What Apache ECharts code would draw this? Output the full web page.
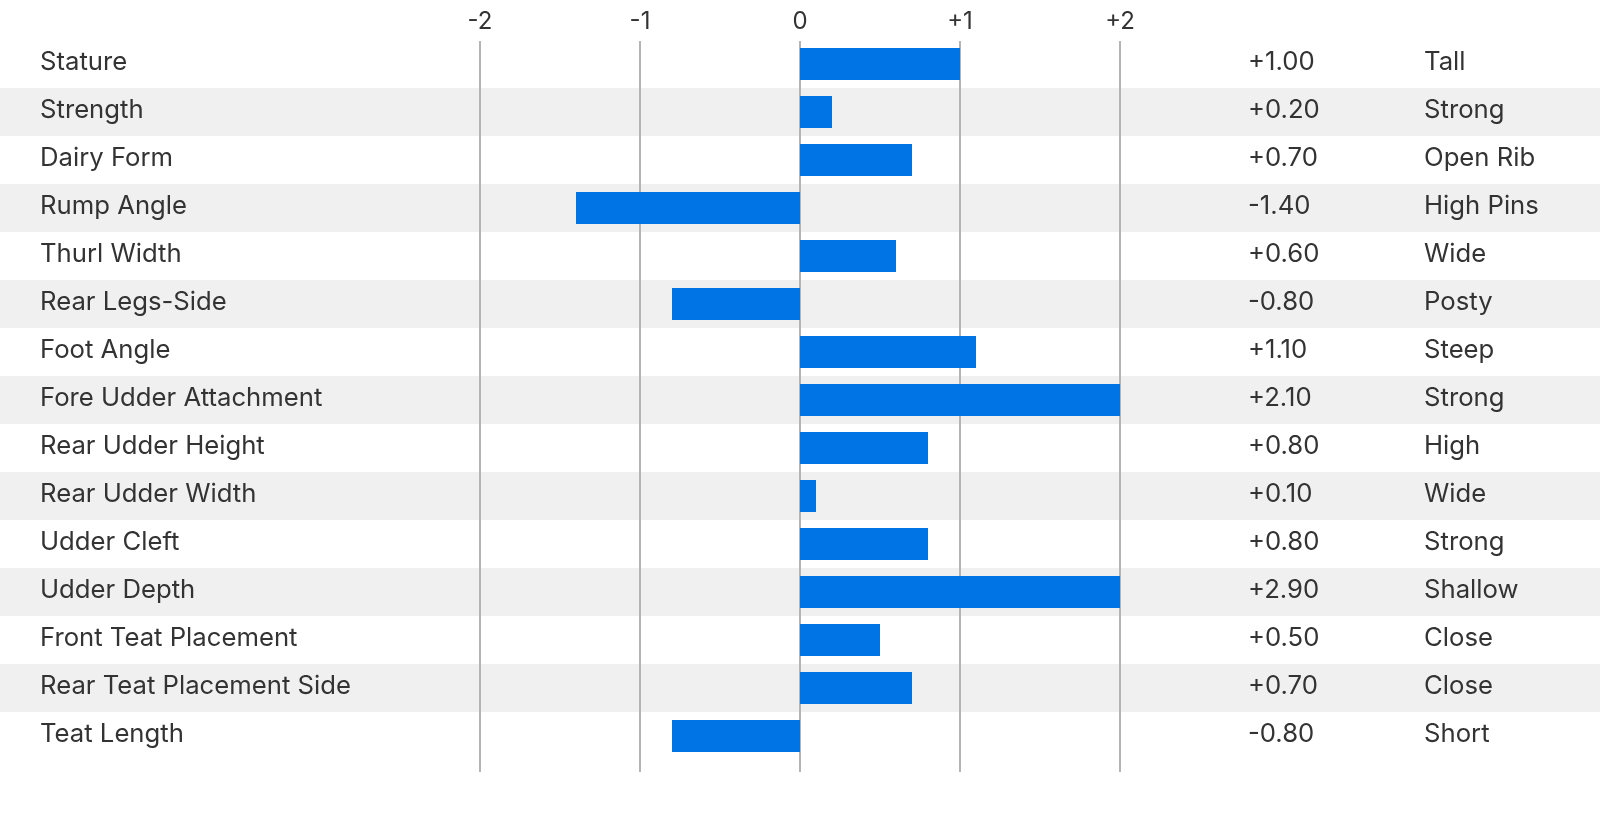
<!DOCTYPE html>
<html><head><meta charset="utf-8">
<script src="https://cdn.jsdelivr.net/npm/echarts@6/dist/echarts.min.js"></script>
<style>html,body{margin:0;padding:0;background:#fff}#c{width:1600px;height:836px}</style>
</head><body><div id="c"></div>
<script>
const categories = ['Stature','Strength','Dairy Form','Rump Angle','Thurl Width','Rear Legs-Side','Foot Angle','Fore Udder Attachment','Rear Udder Height','Rear Udder Width','Udder Cleft','Udder Depth','Front Teat Placement','Rear Teat Placement Side','Teat Length'];
const values = [1.00,0.20,0.70,-1.40,0.60,-0.80,1.10,2.10,0.80,0.10,0.80,2.90,0.50,0.70,-0.80];
const descriptors = ['Tall','Strong','Open Rib','High Pins','Wide','Posty','Steep','Strong','High','Wide','Strong','Shallow','Close','Close','Short'];
const tickValues = [-2,-1,0,1,2];
const tickLabels = ['-2','-1','0','+1','+2'];

const FONT = 'Inter';
const TXT = '#333333';
const fmtVal = v => (v > 0 ? '+' : (v < 0 ? '-' : '')) + Math.abs(v).toFixed(2);

const chart = echarts.init(document.getElementById('c'));
const rowGrid = {top: 40, bottom: 76};
const textGrid = {top: 38, bottom: 78};
const hiddenX = i => ({type:'value', gridIndex:i, min:0, max:1, show:false});
const catY = (i, extra) => Object.assign({
  type:'category', gridIndex:i, inverse:true, data:categories,
  axisLine:{show:false}, axisTick:{show:false}, splitLine:{show:false}
}, extra);
const lblStyle = {color:TXT, fontFamily:FONT, fontSize:25.7};

chart.setOption({
  animation:false,
  backgroundColor:'#ffffff',
  grid:[
    Object.assign({left:0, right:0}, rowGrid),
    Object.assign({left:480, right:480}, rowGrid),
    Object.assign({left:1248, right:0}, textGrid),
    Object.assign({left:1424, right:0}, textGrid),
    {left:480, right:480, top:41, bottom:64},
    Object.assign({left:0, right:0}, textGrid)
  ],
  xAxis:[
    hiddenX(0),
    {type:'value', gridIndex:1, min:-2, max:2, show:false},
    hiddenX(2),
    hiddenX(3),
    {type:'value', gridIndex:4, min:-2, max:2, interval:1, position:'top', z:1,
     axisLine:{show:false}, axisTick:{show:false},
     axisLabel:{margin:7, color:TXT, fontFamily:FONT, fontSize:24, formatter:v => tickLabels[tickValues.indexOf(v)]},
     splitLine:{show:true, lineStyle:{color:'#b4b4b4', width:2}}},
    hiddenX(5)
  ],
  yAxis:[
    catY(0, {z:0, axisLabel:{show:false},
      splitArea:{show:true, areaStyle:{color:['#ffffff','#f0f0f0']}}}),
    catY(1, {axisLabel:{show:false}}),
    catY(2, {z:3, axisLabel:Object.assign({inside:true, margin:0, formatter:(v,i)=>fmtVal(values[i])}, lblStyle)}),
    catY(3, {z:3, axisLabel:Object.assign({inside:true, margin:0, formatter:(v,i)=>descriptors[i]}, lblStyle)}),
    {type:'value', gridIndex:4, min:0, max:1, show:false},
    catY(5, {z:3, axisLabel:Object.assign({inside:true, margin:40}, lblStyle)})
  ],
  series:[{
    type:'bar', xAxisIndex:1, yAxisIndex:1, data:values, barWidth:32, z:2,
    itemStyle:{color:'#0074e4'}, clip:true
  }]
});
</script></body></html>
